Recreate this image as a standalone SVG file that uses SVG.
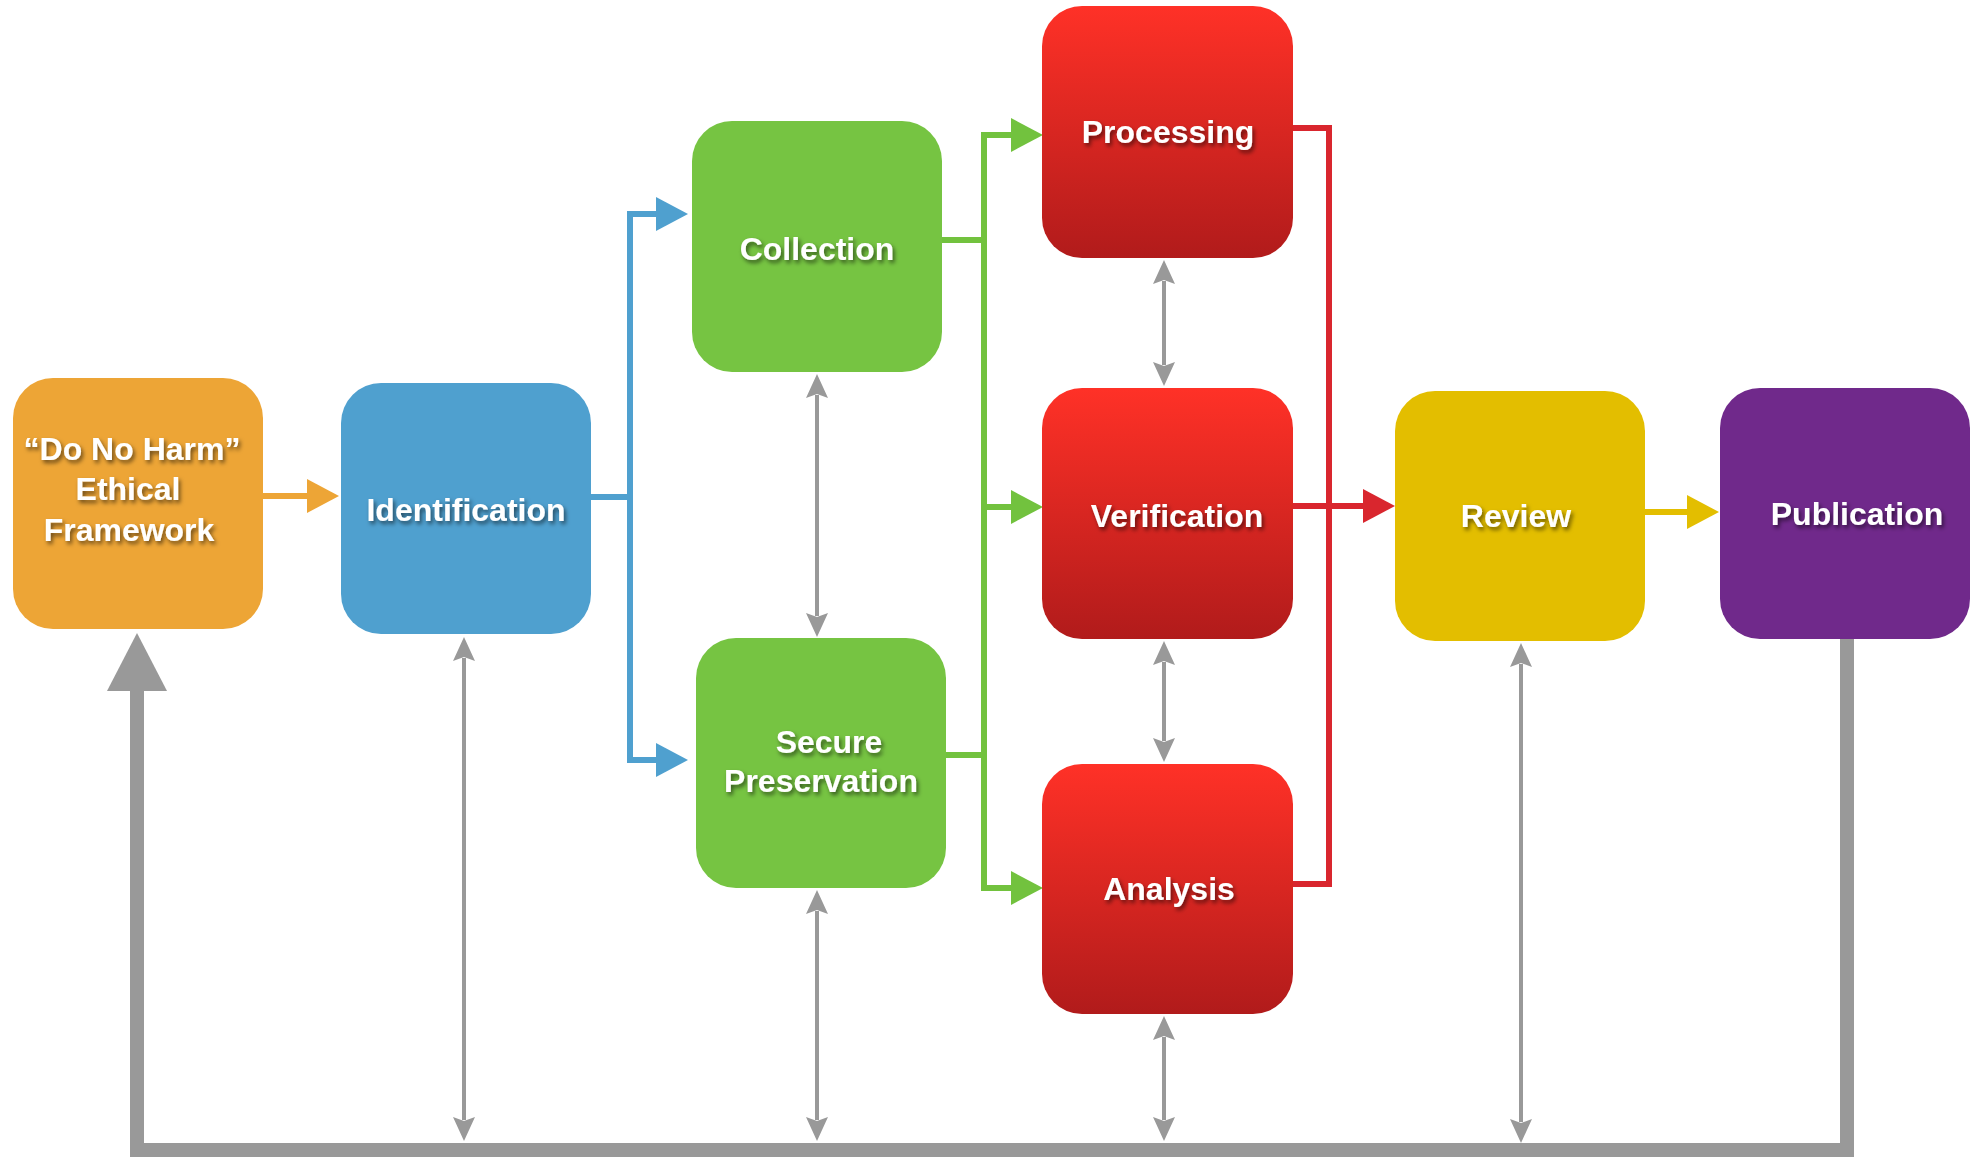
<svg xmlns="http://www.w3.org/2000/svg" width="1983" height="1158" viewBox="0 0 1983 1158">
<style>
.lbl{font-family:"Liberation Sans",Arial,Helvetica,sans-serif;font-weight:bold;font-size:32px;fill:#ffffff;text-anchor:middle;filter:url(#sh)}
.conn{fill:none;stroke-linejoin:miter}
.g{stroke:#999999;stroke-width:4;fill:none}
</style>
<defs>
<filter id="sh" x="-20%" y="-40%" width="140%" height="180%">
<feDropShadow dx="2" dy="3" stdDeviation="2" flood-color="#000000" flood-opacity="0.55"/>
</filter>
<linearGradient id="red" x1="0" y1="0" x2="0" y2="1">
<stop offset="0" stop-color="#FF3127"/>
<stop offset="1" stop-color="#B11B1B"/>
</linearGradient>
<marker id="aO" markerUnits="userSpaceOnUse" markerWidth="32" markerHeight="34" refX="2" refY="17" orient="auto-start-reverse"><path d="M0,0 L32,17 L0,34 z" fill="#EDA536"/></marker>
<marker id="aB" markerUnits="userSpaceOnUse" markerWidth="32" markerHeight="34" refX="2" refY="17" orient="auto-start-reverse"><path d="M0,0 L32,17 L0,34 z" fill="#4FA0CF"/></marker>
<marker id="aG" markerUnits="userSpaceOnUse" markerWidth="32" markerHeight="34" refX="2" refY="17" orient="auto-start-reverse"><path d="M0,0 L32,17 L0,34 z" fill="#72C23E"/></marker>
<marker id="aR" markerUnits="userSpaceOnUse" markerWidth="32" markerHeight="34" refX="2" refY="17" orient="auto-start-reverse"><path d="M0,0 L32,17 L0,34 z" fill="#D9262E"/></marker>
<marker id="aY" markerUnits="userSpaceOnUse" markerWidth="32" markerHeight="34" refX="2" refY="17" orient="auto-start-reverse"><path d="M0,0 L32,17 L0,34 z" fill="#E3BE00"/></marker>
<marker id="aS" markerUnits="userSpaceOnUse" markerWidth="24" markerHeight="22" refX="3" refY="11" orient="auto-start-reverse"><path d="M0,0 L24,11 L0,22 L4,11 z" fill="#999999"/></marker>
<marker id="aBig" markerUnits="userSpaceOnUse" markerWidth="58" markerHeight="60" refX="1" refY="30" orient="auto"><path d="M0,0 L58,30 L0,60 z" fill="#999999"/></marker>
</defs>

<g id="connectors">
<path class="conn" d="M1847,639 V1150 H137 V690" stroke="#999999" stroke-width="14" marker-end="url(#aBig)"/>
<path class="g" d="M464,658 V1120" marker-start="url(#aS)" marker-end="url(#aS)"/>
<path class="g" d="M817,395 V616" marker-start="url(#aS)" marker-end="url(#aS)"/>
<path class="g" d="M817,911 V1120" marker-start="url(#aS)" marker-end="url(#aS)"/>
<path class="g" d="M1164,281 V365" marker-start="url(#aS)" marker-end="url(#aS)"/>
<path class="g" d="M1164,662 V741" marker-start="url(#aS)" marker-end="url(#aS)"/>
<path class="g" d="M1164,1037 V1120" marker-start="url(#aS)" marker-end="url(#aS)"/>
<path class="g" d="M1521,664 V1122" marker-start="url(#aS)" marker-end="url(#aS)"/>

<path class="conn" d="M263,496 H309" stroke="#EDA536" stroke-width="6" marker-end="url(#aO)"/>
<path class="conn" d="M591,497 H630" stroke="#4FA0CF" stroke-width="6"/>
<path class="conn" d="M658,214 H630 V760 H658" stroke="#4FA0CF" stroke-width="6" marker-start="url(#aB)" marker-end="url(#aB)"/>
<path class="conn" d="M942,240 H984" stroke="#72C23E" stroke-width="6"/>
<path class="conn" d="M946,755 H984" stroke="#72C23E" stroke-width="6"/>
<path class="conn" d="M1013,135 H984 V888 H1013" stroke="#72C23E" stroke-width="6" marker-start="url(#aG)" marker-end="url(#aG)"/>
<path class="conn" d="M984,507 H1013" stroke="#72C23E" stroke-width="6" marker-end="url(#aG)"/>
<path class="conn" d="M1293,128 H1329 V884 H1293" stroke="#D9262E" stroke-width="6"/>
<path class="conn" d="M1293,506 H1365" stroke="#D9262E" stroke-width="6" marker-end="url(#aR)"/>
<path class="conn" d="M1645,512 H1689" stroke="#E3BE00" stroke-width="6" marker-end="url(#aY)"/>
</g>

<g id="node-ethics">
<rect x="13" y="378" width="250" height="251" rx="40" fill="#EDA536"/>
<text class="lbl" x="132" y="460">“Do No Harm”</text>
<text class="lbl" x="128" y="500">Ethical</text>
<text class="lbl" x="129" y="541">Framework</text>
</g>
<g id="node-identification">
<rect x="341" y="383" width="250" height="251" rx="40" fill="#4FA0CF"/>
<text class="lbl" x="466" y="521">Identification</text>
</g>
<g id="node-collection">
<rect x="692" y="121" width="250" height="251" rx="40" fill="#76C442"/>
<text class="lbl" x="817" y="260">Collection</text>
</g>
<g id="node-preservation">
<rect x="696" y="638" width="250" height="250" rx="40" fill="#76C442"/>
<text class="lbl" x="829" y="753">Secure</text>
<text class="lbl" x="821" y="792">Preservation</text>
</g>
<g id="node-processing">
<rect x="1042" y="6" width="251" height="252" rx="40" fill="url(#red)"/>
<text class="lbl" x="1168" y="143">Processing</text>
</g>
<g id="node-verification">
<rect x="1042" y="388" width="251" height="251" rx="40" fill="url(#red)"/>
<text class="lbl" x="1177" y="527">Verification</text>
</g>
<g id="node-analysis">
<rect x="1042" y="764" width="251" height="250" rx="40" fill="url(#red)"/>
<text class="lbl" x="1169" y="900">Analysis</text>
</g>
<g id="node-review">
<rect x="1395" y="391" width="250" height="250" rx="40" fill="#E3BE00"/>
<text class="lbl" x="1516" y="527">Review</text>
</g>
<g id="node-publication">
<rect x="1720" y="388" width="250" height="251" rx="40" fill="#70298B"/>
<text class="lbl" x="1857" y="525">Publication</text>
</g>
</svg>
